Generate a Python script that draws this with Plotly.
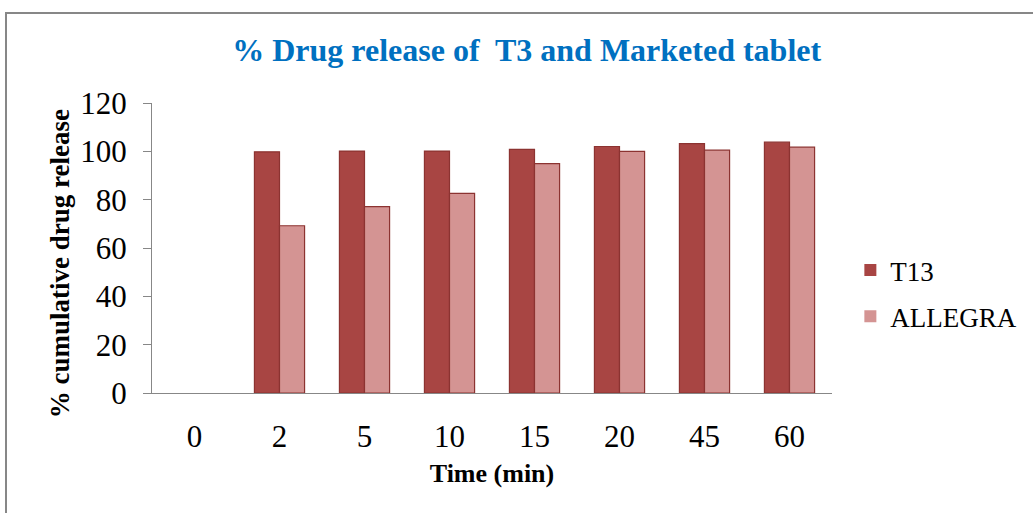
import plotly.graph_objects as go

# Data
times = ["0", "2", "5", "10", "15", "20", "45", "60"]
t13 = [0, 99.8, 100.1, 100.1, 100.8, 102.0, 103.2, 103.8]
allegra = [0, 69.2, 77.1, 82.6, 94.9, 100.0, 100.5, 101.7]
y_ticks = [0, 20, 40, 60, 80, 100, 120]

serif = "Liberation Serif, Times New Roman, serif"

# no outline on empty (zero) bars
edge = [0 if v == 0 else 1.2 for v in t13]

fig = go.Figure()
fig.add_trace(
    go.Bar(
        x=times,
        y=t13,
        name="T13",
        legendgroup="a",
        marker={"color": "#A84543", "line": {"color": "#8C3331", "width": edge}},
    )
)
fig.add_trace(
    go.Bar(
        x=times,
        y=allegra,
        name="ALLEGRA",
        legendgroup="b",
        marker={"color": "#D49493", "line": {"color": "#8C3331", "width": edge}},
    )
)

# outer chart border (left and top visible)
fig.add_shape(
    type="rect",
    xref="paper",
    yref="paper",
    x0=-0.2147,
    x1=1.31,
    y0=-0.45,
    y1=1.31,
    line={"color": "#878787", "width": 2},
    fillcolor="rgba(0,0,0,0)",
    layer="below",
)

# y-axis title sits a bit below the plot centre in the original
fig.add_annotation(
    text="<b>% cumulative drug release</b>",
    textangle=-90,
    xref="paper",
    yref="paper",
    x=-0.135,
    y=0.445,
    xanchor="center",
    yanchor="middle",
    showarrow=False,
    font={"family": serif, "size": 27, "color": "black"},
)

fig.update_layout(
    width=1033,
    height=513,
    margin={"l": 152, "r": 201, "t": 103, "b": 120, "autoexpand": False},
    paper_bgcolor="white",
    plot_bgcolor="white",
    barmode="group",
    bargap=0.41,
    bargroupgap=0,
    font={"family": serif, "color": "black"},
    title={
        "text": "<b>% Drug release of  T3 and Marketed tablet</b>",
        "font": {"family": serif, "size": 32, "color": "#0070C0"},
        "xref": "paper",
        "x": 0.551,
        "xanchor": "center",
        "y": 0.902,
        "yanchor": "middle",
    },
    legend={
        "x": 1.027,
        "xanchor": "left",
        "y": 0.343,
        "yanchor": "middle",
        "font": {"family": serif, "size": 27},
        "tracegroupgap": 8,
        "bgcolor": "rgba(0,0,0,0)",
    },
    showlegend=True,
)

fig.update_xaxes(
    showline=True,
    linecolor="#878787",
    linewidth=1,
    showgrid=False,
    ticks="",
    tickfont={"family": serif, "size": 31},
    ticklabelstandoff=16,
    title={"text": "<b>Time (min)</b>", "font": {"family": serif, "size": 26}, "standoff": 10},
)

fig.update_yaxes(
    range=[0, 120],
    tickvals=y_ticks,
    showline=True,
    linecolor="#878787",
    linewidth=1,
    showgrid=False,
    ticks="outside",
    ticklen=8,
    tickcolor="#878787",
    tickfont={"family": serif, "size": 31},
    ticklabelstandoff=10,
    zeroline=False,
)

fig.write_html(
    "out.html",
    config={"displayModeBar": False},
    post_script="document.body.style.margin='0';",
)
